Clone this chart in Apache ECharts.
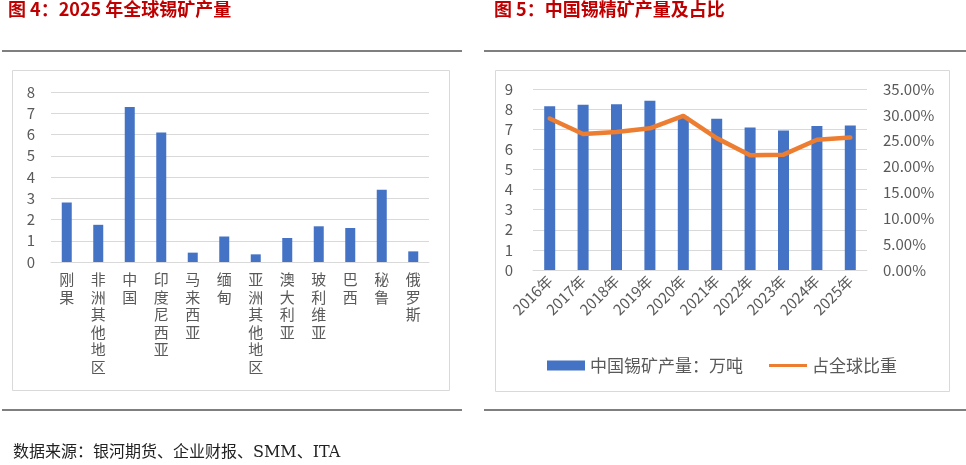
<!DOCTYPE html>
<html>
<head>
<meta charset="utf-8">
<script src="https://cdn.jsdelivr.net/npm/echarts@6/dist/echarts.min.js"></script>
<style>
  body { margin: 0; background: #fff; }
  #main { width: 966px; height: 465px; }
</style>
</head>
<body>
<div id="main"></div>
<script>
// 图4：2025年全球锡矿产量（万吨）
var regions = ['刚果', '非洲其他地区', '中国', '印度尼西亚', '马来西亚', '缅甸', '亚洲其他地区', '澳大利亚', '玻利维亚', '巴西', '秘鲁', '俄罗斯'];
var output2025 = [2.8, 1.75, 7.3, 6.1, 0.44, 1.2, 0.36, 1.13, 1.68, 1.6, 3.4, 0.5];

// 图5：中国锡精矿产量及占比
var years = ['2016年', '2017年', '2018年', '2019年', '2020年', '2021年', '2022年', '2023年', '2024年', '2025年'];
var chinaOutput = [8.14, 8.22, 8.24, 8.42, 7.62, 7.52, 7.09, 6.94, 7.16, 7.18];
var chinaShare = [29.3, 26.3, 26.7, 27.4, 29.8, 25.5, 22.2, 22.3, 25.2, 25.6];

var cjk = '"Noto Sans CJK SC", "Microsoft YaHei", sans-serif';
var gray = '#595959';
var gridColor = '#D9D9D9';

var myChart = echarts.init(document.getElementById('main'));

var option = {
  animation: false,
  textStyle: { fontFamily: cjk },
  graphic: [
    { type: 'text', left: 8, top: 0, style: { text: '图 4：2025 年全球锡矿产量', fill: '#C00000', font: 'bold 18px ' + cjk } },
    { type: 'text', left: 494, top: 0, style: { text: '图 5：中国锡精矿产量及占比', fill: '#C00000', font: 'bold 18px ' + cjk } },
    { type: 'line', shape: { x1: 2, y1: 51, x2: 462, y2: 51 }, style: { stroke: '#000', lineWidth: 1.2 } },
    { type: 'line', shape: { x1: 484, y1: 51, x2: 966, y2: 51 }, style: { stroke: '#000', lineWidth: 1.2 } },
    { type: 'line', shape: { x1: 2, y1: 410, x2: 462, y2: 410 }, style: { stroke: '#000', lineWidth: 1.2 } },
    { type: 'line', shape: { x1: 484, y1: 410, x2: 966, y2: 410 }, style: { stroke: '#000', lineWidth: 1.2 } },
    { type: 'rect', shape: { x: 12.5, y: 70.5, width: 437, height: 320 }, style: { fill: 'none', stroke: gridColor, lineWidth: 1 }, z: -1 },
    { type: 'rect', shape: { x: 495.5, y: 70.5, width: 454, height: 321 }, style: { fill: 'none', stroke: gridColor, lineWidth: 1 }, z: -1 },
    { type: 'text', left: 13, top: 445, style: { text: '数据来源：银河期货、企业财报、SMM、ITA', fill: '#222', font: '16px "DejaVu Serif", ' + cjk } }
  ],
  legend: {
    left: 542, top: 352,
    itemWidth: 38, itemHeight: 10, itemGap: 26,
    textStyle: { color: gray, fontSize: 17, fontFamily: cjk },
    data: [
      { name: '中国锡矿产量：万吨', icon: 'rect' },
      { name: '占全球比重', icon: 'path://M0,3.5 L38,3.5 L38,6.5 L0,6.5 Z' }
    ]
  },
  grid: [
    { left: 51, top: 92, width: 378, height: 170 },
    { left: 533, top: 89, width: 334, height: 181 }
  ],
  xAxis: [
    {
      type: 'category', gridIndex: 0, data: regions,
      axisLine: { lineStyle: { color: gridColor } },
      axisTick: { show: false },
      axisLabel: {
        color: gray, fontSize: 15, lineHeight: 17.5, margin: 9, interval: 0,
        verticalAlign: 'top',
        formatter: function (v) { return v.split('').join('\n'); }
      }
    },
    {
      type: 'category', gridIndex: 1, data: years,
      axisLine: { lineStyle: { color: gridColor } },
      axisTick: { show: false },
      axisLabel: { color: gray, fontSize: 15, rotate: 45, margin: 8, interval: 0 }
    }
  ],
  yAxis: [
    {
      type: 'value', gridIndex: 0, min: 0, max: 8, interval: 1,
      axisLine: { show: false }, axisTick: { show: false },
      axisLabel: { color: gray, fontSize: 15, margin: 16 },
      splitLine: { lineStyle: { color: gridColor } }
    },
    {
      type: 'value', gridIndex: 1, min: 0, max: 9, interval: 1,
      axisLine: { show: false }, axisTick: { show: false },
      axisLabel: { color: gray, fontSize: 15, margin: 20 },
      splitLine: { lineStyle: { color: gridColor } }
    },
    {
      type: 'value', gridIndex: 1, position: 'right', min: 0, max: 35, interval: 5,
      axisLine: { show: false }, axisTick: { show: false },
      axisLabel: { color: gray, fontSize: 15, margin: 16, formatter: function (v) { return v.toFixed(2) + '%'; } },
      splitLine: { show: false }
    }
  ],
  series: [
    {
      name: '2025年锡矿产量', type: 'bar', xAxisIndex: 0, yAxisIndex: 0,
      data: output2025, barWidth: 10,
      itemStyle: { color: '#4472C4' }
    },
    {
      name: '中国锡矿产量：万吨', type: 'bar', xAxisIndex: 1, yAxisIndex: 1,
      data: chinaOutput, barWidth: 11,
      itemStyle: { color: '#4472C4' }
    },
    {
      name: '占全球比重', type: 'line', xAxisIndex: 1, yAxisIndex: 2,
      data: chinaShare, symbol: 'none',
      lineStyle: { color: '#ED7D31', width: 4.5, cap: 'round', join: 'round' },
      itemStyle: { color: '#ED7D31' }
    }
  ]
};

myChart.setOption(option);
</script>
</body>
</html>
